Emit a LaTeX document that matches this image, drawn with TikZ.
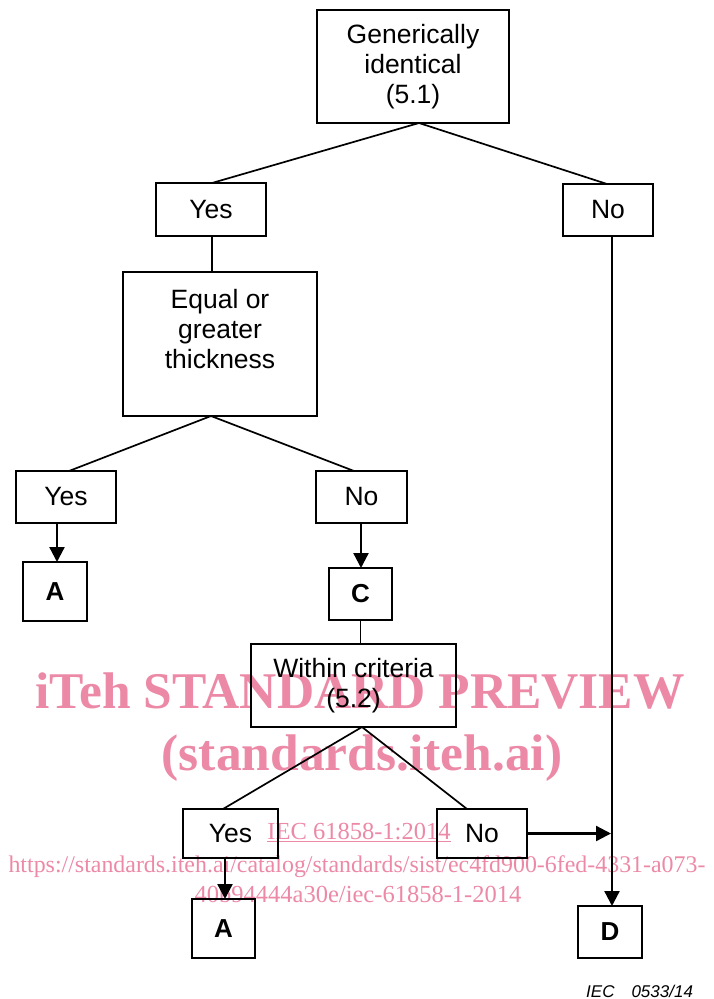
\documentclass[tikz,border=0pt]{standalone}
\usepackage{fontspec}
\setmainfont{Liberation Sans}
\newfontfamily\wmfont{Liberation Serif}
\usetikzlibrary{arrows.meta}
\definecolor{wmpink}{RGB}{236,137,166}
\tikzset{
  x=1pt, y=-1pt,
  box/.style={draw, line width=1.8pt, rectangle, inner sep=0pt, align=center,
    font=\fontsize{26.5}{30}\selectfont},
  txt/.style={inner sep=0pt, align=center, font=\fontsize{26.5}{30}\selectfont},
  letterbox/.style={draw, line width=1.8pt, rectangle, inner sep=0pt,
    font=\fontsize{26}{28}\selectfont\bfseries},
  link/.style={line width=1.7pt},
  arrowlink/.style={line width=2.3pt, -{Triangle[length=15pt,width=15pt]}},
  wmbig/.style={text=wmpink, inner sep=0pt, anchor=base,
    font=\wmfont\bfseries\fontsize{51.5}{56}\selectfont},
  wmsmall/.style={text=wmpink, inner sep=0pt, anchor=base,
    font=\wmfont\fontsize{24.5}{28}\selectfont},
  wmline/.style={text=wmpink, inner sep=0pt, anchor=base,
    font=\wmfont\fontsize{23.9}{28}\selectfont},
}
\begin{document}
\begin{tikzpicture}
\useasboundingbox (0,0) rectangle (714,999);
% watermark (behind)
\node[wmbig] (wm1) at (360,708) {iTeh STANDARD PREVIEW};
\node[wmbig] (wm2) at (362,770) {(standards.iteh.ai)};
\node[wmsmall] (wm3) at (359,839) {\underline{IEC 61858-1:2014}};
\node[wmline] (wm4) at (357,872) {https://standards.iteh.ai/catalog/standards/sist/ec4fd900-6fed-4331-a073-};
\node[wmsmall] (wm5) at (358,902) {40b94444a30e/iec-61858-1-2014};

% boxes
\node[box, minimum width=192, minimum height=113] (top) at (413,66.5) {Generically\\identical\\(5.1)};
\node[box, minimum width=110, minimum height=53] (yes1) at (211,209.5) {Yes};
\node[box, minimum width=90, minimum height=52] (no1) at (608,210) {No};
\node[box, minimum width=194, minimum height=144] (equal) at (220,344) {};
\node[txt] (equaltxt) at (220,329) {Equal or\\greater\\thickness};
\node[box, minimum width=100, minimum height=52] (yes2) at (66,497) {Yes};
\node[box, minimum width=91, minimum height=52] (no2) at (361.5,497) {No};
\node[letterbox, minimum width=64, minimum height=59] (a1) at (55,591.5) {A};
\node[letterbox, minimum width=63, minimum height=52] (c) at (360.5,594) {C};
\node[box, minimum width=205, minimum height=83] (within) at (353.5,685.5) {Within criteria\\(5.2)};
\node[box, minimum width=95, minimum height=49] (yes3) at (230.5,833.5) {Yes};
\node[box, minimum width=90, minimum height=49] (no3) at (482,833.5) {No};
\node[letterbox, minimum width=63, minimum height=59] (a2) at (223.5,928.5) {A};
\node[letterbox, minimum width=64, minimum height=52] (d) at (610,932) {D};

% connectors
\coordinate (topapex) at (419,123);
\draw[link] (topapex) -- (212,183) coordinate (y1top);
\draw[link] (topapex) -- (607,184) coordinate (n1top);
\draw[link] (212,236) coordinate (y1bot) -- (212,272) coordinate (eqtop);
\coordinate (eqapex) at (211,416);
\draw[link] (eqapex) -- (69,471) coordinate (y2top);
\draw[link] (eqapex) -- (354,471) coordinate (n2top);
\draw[arrowlink] (57,523) coordinate (y2bot) -- (57,562) coordinate (a1top);
\draw[arrowlink] (361,523) coordinate (n2bot) -- (361,568) coordinate (ctop);
\draw[link] (c.south) -- (c.south |- within.north);
\coordinate (wapex) at (362,727);
\draw[link] (wapex) -- (223,809) coordinate (y3top);
\draw[link] (wapex) -- (467,809) coordinate (n3top);
\draw[arrowlink] (225,858) coordinate (y3bot) -- (225,899) coordinate (a2top);
\draw[arrowlink] (612,236) coordinate (n1bot) -- (612,906) coordinate (dtop);
\draw[arrowlink] (no3.east) -- (611,833.5) coordinate (joinpt);

% figure id
\node[inner sep=0pt, anchor=base west, font=\fontsize{17}{20}\selectfont\itshape] (figid) at (586,997) {IEC\hspace{17pt}0533/14};
\end{tikzpicture}
\end{document}
